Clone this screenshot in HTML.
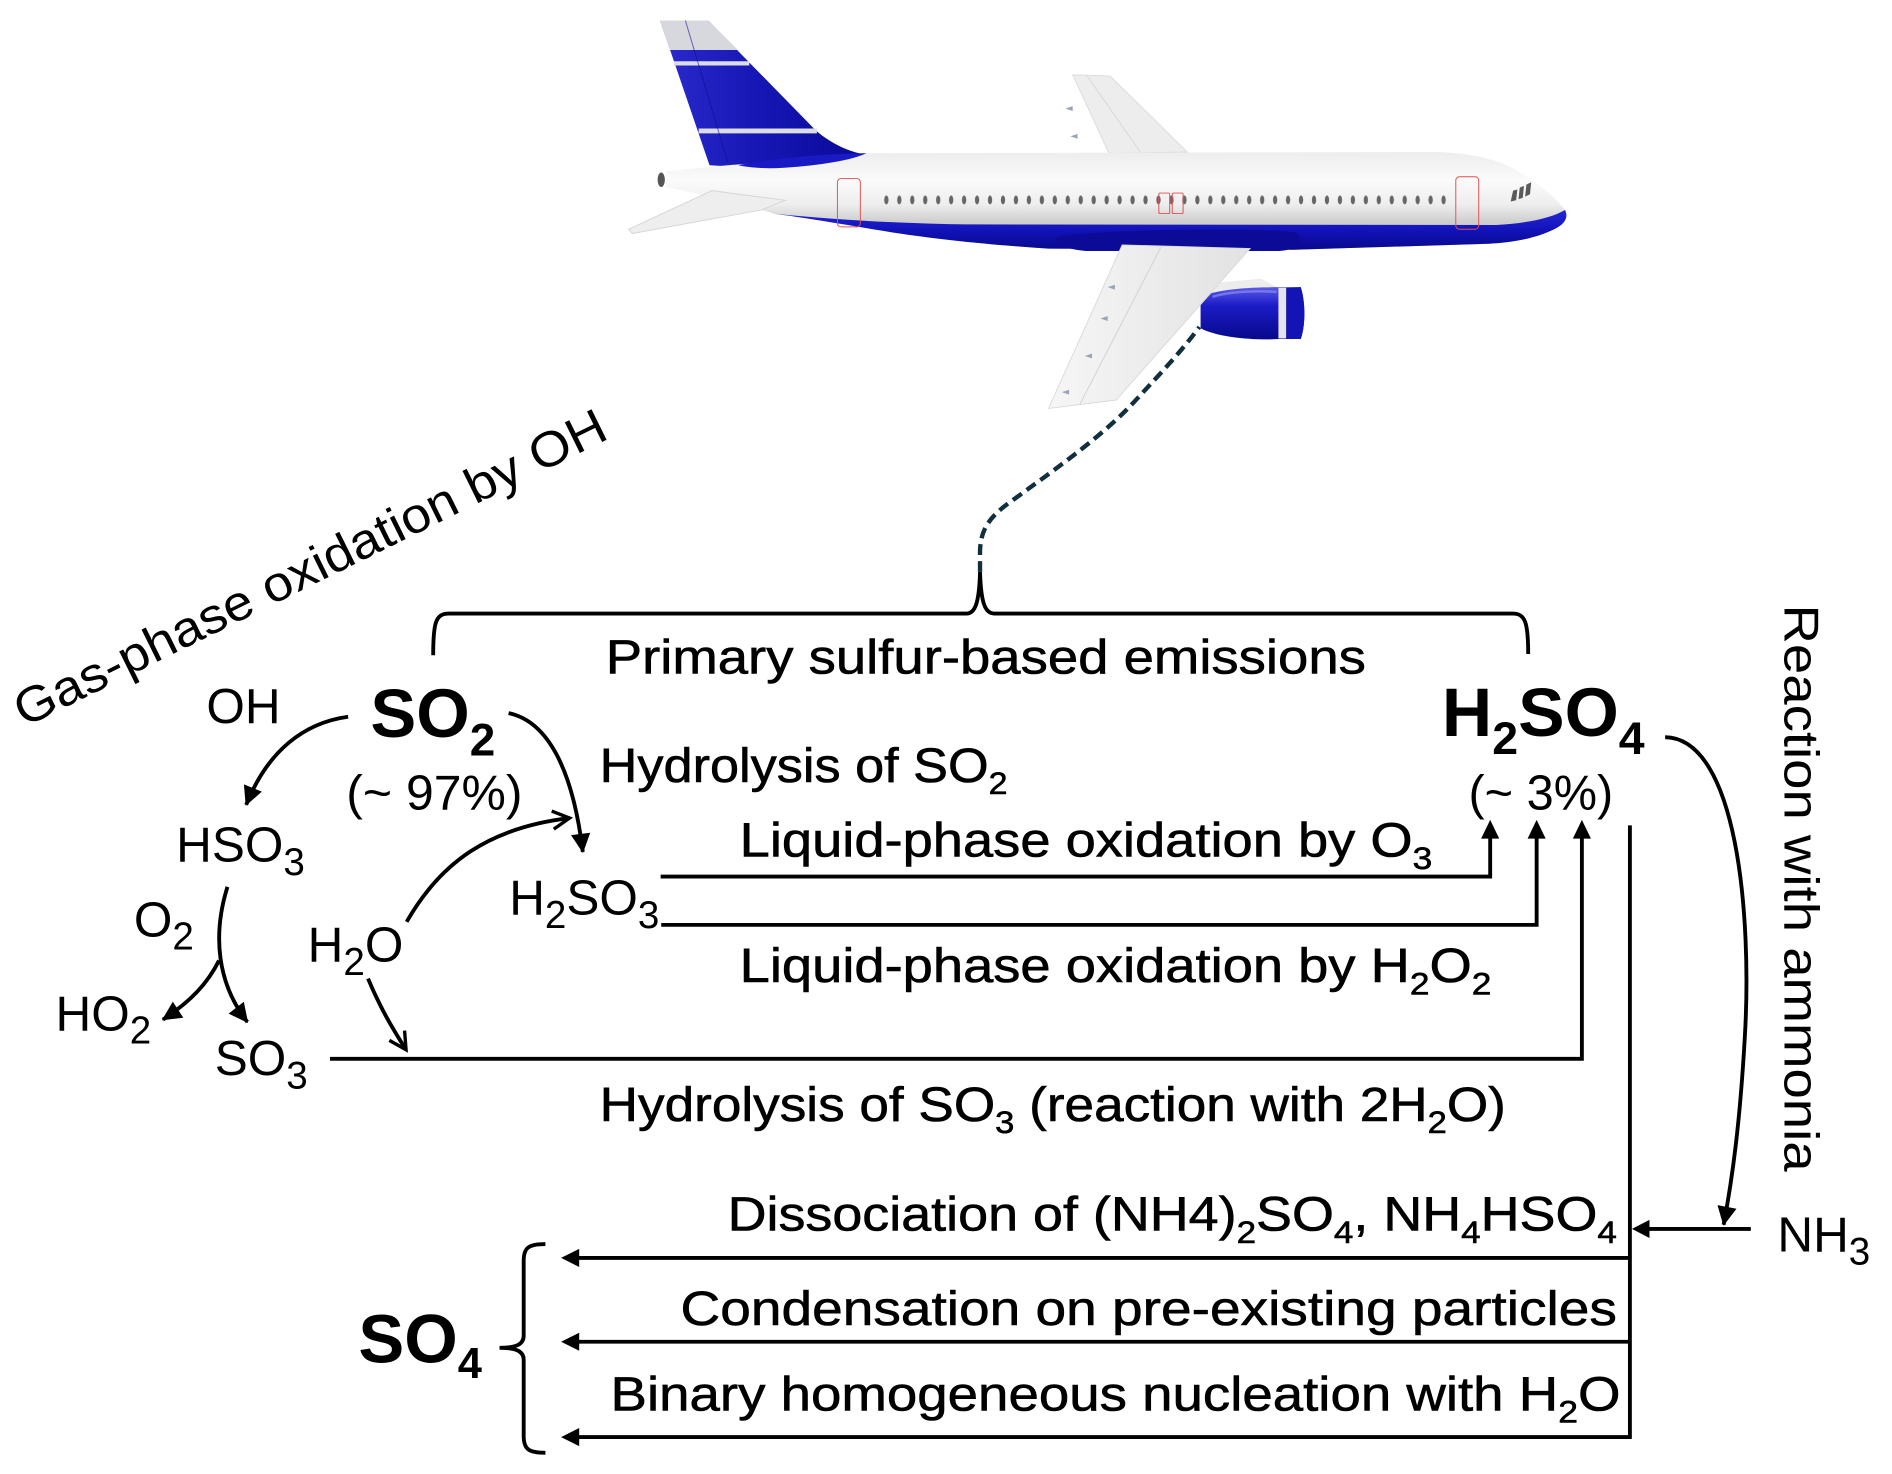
<!DOCTYPE html>
<html>
<head>
<meta charset="utf-8">
<style>
html,body{margin:0;padding:0;background:#fff;}
svg{display:block;}
.a{font-family:"Liberation Sans",Arial,sans-serif;font-size:41px;fill:#000;}
.b{font-family:"Liberation Sans",Arial,sans-serif;font-size:57px;font-weight:bold;fill:#000;}
.c{font-family:"Liberation Sans Narrow","Liberation Sans",Arial,sans-serif;font-size:40px;fill:#000;stroke:#000;stroke-width:0.5;}
.ln{fill:none;stroke:#000;stroke-width:3.2;}
</style>
</head>
<body>
<svg width="1892" height="1474" viewBox="0 0 1568 1221.6" xmlns="http://www.w3.org/2000/svg">
<defs>
  <marker id="ah" markerUnits="userSpaceOnUse" markerWidth="17" markerHeight="17" refX="15" refY="8" orient="auto" overflow="visible">
    <path d="M0,0 L16,8 L0,16 Z" fill="#000"/>
  </marker>
  <marker id="oh" markerUnits="userSpaceOnUse" markerWidth="18" markerHeight="18" refX="15" refY="8" orient="auto" overflow="visible">
    <path d="M1,0.5 L15,8 L1,15.5" fill="none" stroke="#000" stroke-width="2.8"/>
  </marker>
  <linearGradient id="fus" gradientUnits="userSpaceOnUse" x1="0" y1="125" x2="0" y2="206">
    <stop offset="0" stop-color="#ececec"/>
    <stop offset="0.3" stop-color="#fbfbfb"/>
    <stop offset="0.55" stop-color="#eeeeee"/>
    <stop offset="0.72" stop-color="#cfcfcf"/>
    <stop offset="1" stop-color="#b5b5b5"/>
  </linearGradient>
  <linearGradient id="blu" gradientUnits="userSpaceOnUse" x1="0" y1="174" x2="0" y2="208">
    <stop offset="0" stop-color="#2626d6"/>
    <stop offset="0.5" stop-color="#1212b8"/>
    <stop offset="1" stop-color="#08088a"/>
  </linearGradient>
  <linearGradient id="fin" gradientUnits="userSpaceOnUse" x1="550" y1="0" x2="710" y2="0">
    <stop offset="0" stop-color="#2a2acc"/>
    <stop offset="0.5" stop-color="#1616b4"/>
    <stop offset="1" stop-color="#0a0a9a"/>
  </linearGradient>
  <linearGradient id="eng" gradientUnits="userSpaceOnUse" x1="0" y1="238" x2="0" y2="281">
    <stop offset="0" stop-color="#5a5ae8"/>
    <stop offset="0.35" stop-color="#1c1cc8"/>
    <stop offset="1" stop-color="#08088c"/>
  </linearGradient>
  <linearGradient id="wng" gradientUnits="userSpaceOnUse" x1="870" y1="0" x2="1036" y2="0">
    <stop offset="0" stop-color="#f6f6f6"/>
    <stop offset="1" stop-color="#e2e2e2"/>
  </linearGradient>
  <pattern id="win" patternUnits="userSpaceOnUse" x="729.2" y="160" width="10.74" height="12">
    <ellipse cx="5.37" cy="5.7" rx="1.8" ry="3.7" fill="#666"/>
  </pattern>
</defs>

<!-- ============ AIRPLANE ============ -->
<!-- far wing -->
<path d="M889,62 L920,63 L984,126 L919,127 Z" fill="#ededed" stroke="#dcdcdc" stroke-width="0.8"/>
<path d="M901,63 L945,126" stroke="#d8d8d8" stroke-width="0.8" fill="none"/>
<path d="M889,88 l-6,2 l6,2 Z M893,111 l-6,2 l6,2 Z" fill="#9aa4b8"/>
<!-- tail fin -->
<path d="M547,17 L587,17 L676,108 C690,120 705,126 717,128 L640,140 L588,137 Z" fill="url(#fin)"/>
<path d="M547,17 L587,17 L611.6,41.4 L555.3,41.4 Z" fill="#d6d8de"/>
<path d="M558.5,52.5 L621,52.5" stroke="#dcdce4" stroke-width="3.5"/>
<path d="M579,108.5 L677,108.5" stroke="#dcdce4" stroke-width="4"/>
<path d="M568,17 L603,134" stroke="#0c0c90" stroke-width="0.8" fill="none" opacity="0.6"/>
<!-- fuselage -->
<path d="M552,142 C580,139 600,137 616,136 C660,131 690,128 717,127 L1189,126 C1220,127 1240,132 1255,140 C1272,150 1288,162 1297,174 C1300,180 1297,185 1290,189 C1275,197 1255,201 1234,202 L1072,207 L869,206 C820,203 775,198 742,193 C700,186 665,180 641,177 C620,170 600,165 590,163 C575,160 560,157 552,155 Z" fill="url(#fus)"/>
<!-- blue belly -->
<path d="M641,177 C700,183 760,185.5 800,186 L1240,186.5 C1265,185 1285,181 1297,174 C1300,180 1297,185 1290,189 C1275,197 1255,201 1234,202 L1072,207 L869,206 C820,203 775,198 742,193 C700,186 665,180 641,177 Z" fill="url(#blu)"/>
<path d="M874,197 C900,190 1050,188 1075,193 C1080,200 1075,207 1060,208 L900,208 C880,206 874,201 874,197 Z" fill="#0b0b98"/>
<!-- fin fillet -->
<path d="M612,137 C640,131 690,127 718,127 C705,133 680,137 650,139 C635,140 620,139 612,137 Z" fill="#1a1ac4"/>
<!-- tail cone cap -->
<ellipse cx="548" cy="149" rx="3" ry="6" fill="#555"/>
<!-- windows -->
<rect x="732" y="160" width="467" height="12" fill="url(#win)"/>
<!-- doors -->
<rect x="694" y="148" width="19" height="40" rx="3" fill="none" stroke="#e05050" stroke-width="0.8"/>
<rect x="1206.5" y="146.5" width="19" height="43.5" rx="3" fill="none" stroke="#e05050" stroke-width="0.8"/>
<rect x="960.4" y="160" width="9" height="17" rx="1" fill="none" stroke="#e05050" stroke-width="0.8"/>
<rect x="971.5" y="160" width="9" height="17" rx="1" fill="none" stroke="#e05050" stroke-width="0.8"/>
<!-- cockpit -->
<path d="M1252,167 L1254,158 L1257.5,157 L1256.5,166 Z M1258.5,165 L1259.5,155.5 L1263,154 L1262,164 Z M1264,163 L1265,153 L1269,151 L1268,161 Z" fill="#5a5a5a"/>
<!-- horizontal stabilizer -->
<path d="M651,166 L590,158 L521,190 L524,193.5 L631,174 Z" fill="#eeeeee" stroke="#d6d6d6" stroke-width="0.8"/>
<!-- engine -->
<path d="M990,236 L1045,231 L1062,240 L1000,246 Z" fill="#ececec"/>
<path d="M995,246 C1010,239 1040,238 1060,238 L1078,238 C1082,250 1082,270 1078,281 L1060,281 C1040,282 1010,280 995,272 Z" fill="url(#eng)"/>
<rect x="1059.5" y="238.5" width="6.5" height="42" fill="#e4e4ea"/>
<path d="M1066,238.5 L1078,238 C1082,250 1082,270 1078,281 L1066,281 Z" fill="#1414b4"/>
<path d="M1005,246 C1020,241 1045,241 1058,242" stroke="#8c8cf0" stroke-width="2" fill="none" opacity="0.7"/>
<!-- near wing -->
<path d="M930,203 L1036,206 L925,331.5 L869,338.5 Z" fill="url(#wng)" stroke="#dadada" stroke-width="0.8"/>
<path d="M962,205 L895,335" stroke="#d2d2d2" stroke-width="0.8" fill="none"/>
<path d="M924,236 l-6,2 l6,2 Z M918,262 l-6,2 l6,2 Z M905,293 l-6,2 l6,2 Z M886,323 l-6,2 l6,2 Z" fill="#9aa4b8"/>

<!-- dashed exhaust line -->
<path d="M812.2,474 V456 C813,438 820,428 840,414 C880,385 915,360 940,333 C965,306 980,290 994,271" fill="none" stroke="#112f3e" stroke-width="3.6" stroke-dasharray="9 5"/>

<!-- top brace -->
<path class="ln" d="M359,543 C359,516 361,508.5 372,508.5 L801,508.5 C808,508.5 811.5,500 812.2,474 C813,500 816.5,508.5 824,508.5 L1254,508.5 C1264,508.5 1266.5,516 1266.5,542"/>

<!-- ============ TEXT ============ -->
<text class="a" transform="translate(20,603) rotate(-26.3)" font-size="44" textLength="542" lengthAdjust="spacingAndGlyphs">Gas-phase oxidation by OH</text>
<text class="a" transform="translate(1479,501) rotate(90)" font-size="45" textLength="470" lengthAdjust="spacingAndGlyphs">Reaction with ammonia</text>

<text class="c" x="502" y="558" textLength="630" lengthAdjust="spacingAndGlyphs">Primary sulfur-based emissions</text>

<text class="b" x="307" y="611">SO<tspan dy="15" font-size="38">2</tspan></text>
<text class="b" x="1195" y="610" textLength="168" lengthAdjust="spacingAndGlyphs">H<tspan dy="15" font-size="38">2</tspan><tspan dy="-15">SO</tspan><tspan dy="15" font-size="38">4</tspan></text>
<text class="b" x="297" y="1129">SO<tspan dy="13" font-size="36">4</tspan></text>

<text class="a" x="171" y="599">OH</text>
<text class="a" x="287" y="671" font-size="38.5" textLength="146" lengthAdjust="spacingAndGlyphs">(~ 97%)</text>
<text class="a" x="1217" y="671" font-size="38.5" textLength="120" lengthAdjust="spacingAndGlyphs">(~ 3%)</text>
<text class="a" x="146" y="714">HSO<tspan dy="11" font-size="32">3</tspan></text>
<text class="a" x="111" y="776">O<tspan dy="11" font-size="32">2</tspan></text>
<text class="a" x="46" y="854">HO<tspan dy="11" font-size="32">2</tspan></text>
<text class="a" x="178" y="891">SO<tspan dy="11" font-size="32">3</tspan></text>
<text class="a" x="255" y="797">H<tspan dy="11" font-size="32">2</tspan><tspan dy="-11">O</tspan></text>
<text class="a" x="422" y="758">H<tspan dy="11" font-size="32">2</tspan><tspan dy="-11">SO</tspan><tspan dy="11" font-size="32">3</tspan></text>
<text class="a" x="1473" y="1037">NH<tspan dy="11" font-size="32">3</tspan></text>

<text class="c" x="497" y="648" textLength="338" lengthAdjust="spacingAndGlyphs">Hydrolysis of SO<tspan dy="10" font-size="26">2</tspan></text>
<text class="c" x="613" y="710" textLength="574" lengthAdjust="spacingAndGlyphs">Liquid-phase oxidation by O<tspan dy="10" font-size="26">3</tspan></text>
<text class="c" x="613" y="814" textLength="623" lengthAdjust="spacingAndGlyphs">Liquid-phase oxidation by H<tspan dy="10" font-size="26">2</tspan><tspan dy="-10">O</tspan><tspan dy="10" font-size="26">2</tspan></text>
<text class="c" x="497" y="929" textLength="751" lengthAdjust="spacingAndGlyphs">Hydrolysis of SO<tspan dy="10" font-size="26">3</tspan><tspan dy="-10"> (reaction with 2H</tspan><tspan dy="10" font-size="26">2</tspan><tspan dy="-10">O)</tspan></text>
<text class="c" x="603" y="1020" textLength="737" lengthAdjust="spacingAndGlyphs">Dissociation of (NH4)<tspan dy="10" font-size="26">2</tspan><tspan dy="-10">SO</tspan><tspan dy="10" font-size="26">4</tspan><tspan dy="-10">, NH</tspan><tspan dy="10" font-size="26">4</tspan><tspan dy="-10">HSO</tspan><tspan dy="10" font-size="26">4</tspan></text>
<text class="c" x="564" y="1098" textLength="776" lengthAdjust="spacingAndGlyphs">Condensation on pre-existing particles</text>
<text class="c" x="506" y="1169" textLength="837" lengthAdjust="spacingAndGlyphs">Binary homogeneous nucleation with H<tspan dy="10" font-size="26">2</tspan><tspan dy="-10">O</tspan></text>

<!-- ============ CONNECTORS ============ -->
<!-- left chemistry arrows -->
<path class="ln" d="M288.5,594 C252,599 222,622 204,667" marker-end="url(#ah)"/>
<path class="ln" d="M421.5,591 C455,598 475,640 483,706" marker-end="url(#ah)"/>
<path class="ln" d="M337,764 C365,715 405,686 472,678" marker-end="url(#oh)"/>
<path class="ln" d="M305,811 C315,835 325,852 336.5,870" marker-end="url(#oh)"/>
<path class="ln" d="M188.5,735 C176,775 180,815 205,847" marker-end="url(#ah)"/>
<path class="ln" d="M181.5,796 C172,815 158,830 135,845" marker-end="url(#ah)"/>

<!-- up arrows into H2SO4 -->
<path class="ln" d="M547.5,726.5 H1235 V694"/>
<path d="M1227.5,695 L1235,679.5 L1242.5,695 Z" fill="#000"/>
<path class="ln" d="M548,766.5 H1273.5 V694"/>
<path d="M1266,695 L1273.5,679.5 L1281,695 Z" fill="#000"/>
<path class="ln" d="M273.5,877.5 H1311 V694"/>
<path d="M1303.5,695 L1311,679.5 L1318.5,695 Z" fill="#000"/>

<!-- vertical trunk -->
<path class="ln" d="M1350.8,684 V1192.5"/>
<!-- NH3 arrow -->
<path class="ln" d="M1451,1018.5 H1366"/>
<path d="M1367,1011 L1352.5,1018.5 L1367,1026 Z" fill="#000"/>
<!-- curved ammonia arrow -->
<path class="ln" d="M1380,611 C1440,612 1452,760 1446,860 C1442,930 1436,975 1428.5,1015" marker-end="url(#ah)"/>

<!-- left arrows to SO4 -->
<path class="ln" d="M1352,1042.5 H478"/>
<path d="M480,1035 L465,1042.5 L480,1050 Z" fill="#000"/>
<path class="ln" d="M1352,1112 H478"/>
<path d="M480,1104.5 L465,1112 L480,1119.5 Z" fill="#000"/>
<path class="ln" d="M1352,1191 H478"/>
<path d="M480,1183.5 L465,1191 L480,1198.5 Z" fill="#000"/>

<!-- SO4 brace -->
<path class="ln" d="M452,1031 C438,1031 434,1034 434,1045 L434,1107 C434,1114 428,1117 414,1117 C428,1117 434,1120 434,1127 L434,1190 C434,1201 438,1204 452,1204"/>
</svg>
</body>
</html>
